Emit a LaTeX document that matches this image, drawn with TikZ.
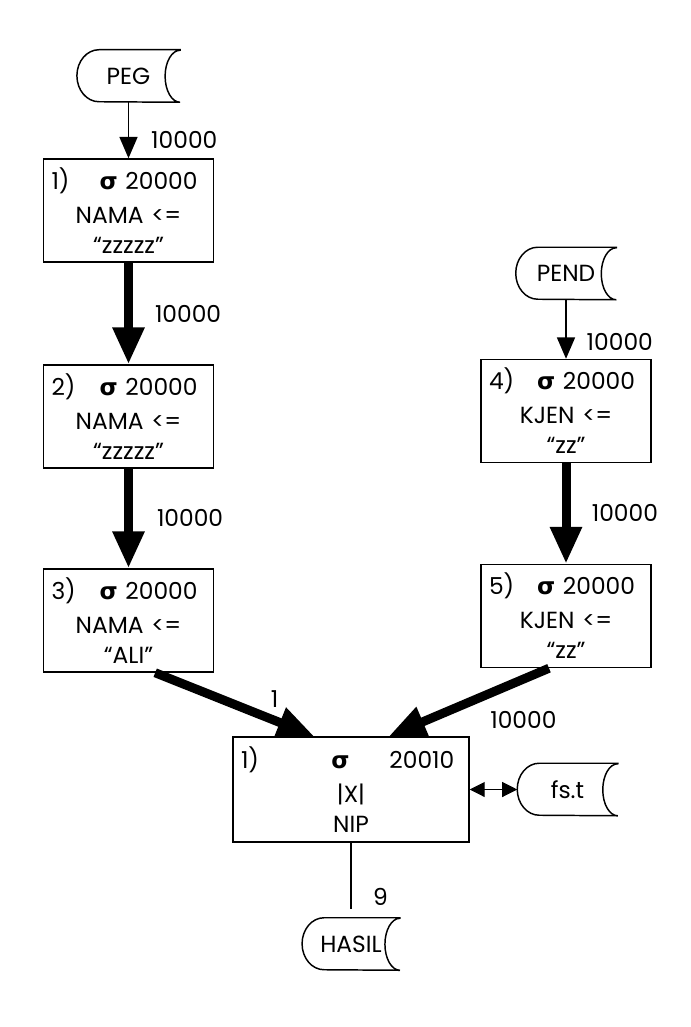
\documentclass[tikz,border=0pt]{standalone}
\usepackage{fontspec}
\setmainfont{Poppins}
\newfontfamily\greekfont{DejaVu Sans}
\usetikzlibrary{positioning,arrows.meta,calc}
\newcommand{\sg}{{\greekfont\bfseries σ}}
\newcommand{\spread}{\hskip 0pt plus 1filll\relax}

\begin{document}
\begin{tikzpicture}[x=0.75pt,y=-0.75pt,
font=\fontsize{17.5}{22.5}\selectfont,
opbox/.style={rectangle,draw,line width=1.1pt,minimum width=127.5pt,minimum height=77.25pt,
  text width=115.5pt,inner xsep=6pt,align=center},
store/.style={rectangle,minimum width=75pt,minimum height=39pt,inner sep=0pt},
flow/.style={-{Triangle[width=13.5pt,length=16pt]},line width=1.1pt},
bigflow/.style={-{Triangle[width=22.5pt,length=27.75pt]},line width=6.75pt},
num/.style={inner sep=0pt}
]
\useasboundingbox (0,0) rectangle (691,1027);

% left branch
\node[store,minimum width=77pt] (peg) at (128.5,76) {PEG};
\node[opbox] (s1) at (128.5,210.5) {1)\spread\sg\ 20000\kern6pt\\[3pt]NAMA <=\\“zzzzz”};
\node[opbox] (s2) at (128.5,416.5) {2)\spread\sg\ 20000\kern6pt\\[3pt]NAMA <=\\“zzzzz”};
\node[opbox] (s3) at (128.5,620.5) {3)\spread\sg\ 20000\kern6pt\\[3pt]NAMA <=\\“ALI”};

% right branch
\node[store] (pend) at (566,273.5) {PEND};
\node[opbox] (s4) at (566,411) {4)\spread\sg\ 20000\kern6pt\\[3pt]KJEN <=\\“zz”};
\node[opbox] (s5) at (566,616) {5)\spread\sg\ 20000\kern6pt\\[3pt]KJEN <=\\“zz”};

% join
\node[opbox,minimum width=177pt,minimum height=78.75pt,text width=165pt] (jn) at (351,789.5)
  {1)\spread\sg\hspace{30pt}20010\kern5pt\\[3pt]|X|\\NIP};
\node[store] (fst) at (567.5,789.5) {fs.t};
\node[store,minimum width=73pt] (hasil) at (351,944) {HASIL};

% data stores
\foreach \n in {peg,pend,fst,hasil}
  \draw[line width=1.1pt] (\n.north east) -- ([xshift=16.5pt]\n.north west)
    arc[start angle=90,end angle=270,x radius=16.5pt,y radius=19.5pt]
    -- (\n.south east) arc[start angle=270,end angle=90,x radius=11.25pt,y radius=19.5pt] -- cycle;

\draw[flow] (peg) -- (s1) node[num,pos=0.67,right=16.5pt] {10000};
\draw[bigflow] (s1) -- (s2) node[num,midway,right=16.5pt] {10000};
\draw[bigflow] (s2) -- (s3) node[num,pos=0.49,right=18pt] {10000};
\draw[flow] (pend) -- (s4) node[num,pos=0.72,right=15pt] {10000};
\draw[bigflow] (s4) -- (s5) node[num,pos=0.49,right=16pt] {10000};
\draw[bigflow] ([xshift=20pt]s3.south) -- ([xshift=61.5pt]jn.north west) node[num,pos=0.75,above=6pt] {1};
\draw[bigflow] ([xshift=-12.75pt]s5.south) -- ([xshift=-60.75pt]jn.north east) node[num,pos=0.16,below=21pt] {10000};
\draw[{Triangle[width=11.25pt,length=11.25pt]}-{Triangle[width=11.25pt,length=11.25pt]},line width=0.8pt] (jn) -- (fst);
\draw[line width=1.1pt,shorten >=6.75pt] (jn) -- (hasil) node[num,pos=0.72,right=16pt] {9};
\end{tikzpicture}
\end{document}
